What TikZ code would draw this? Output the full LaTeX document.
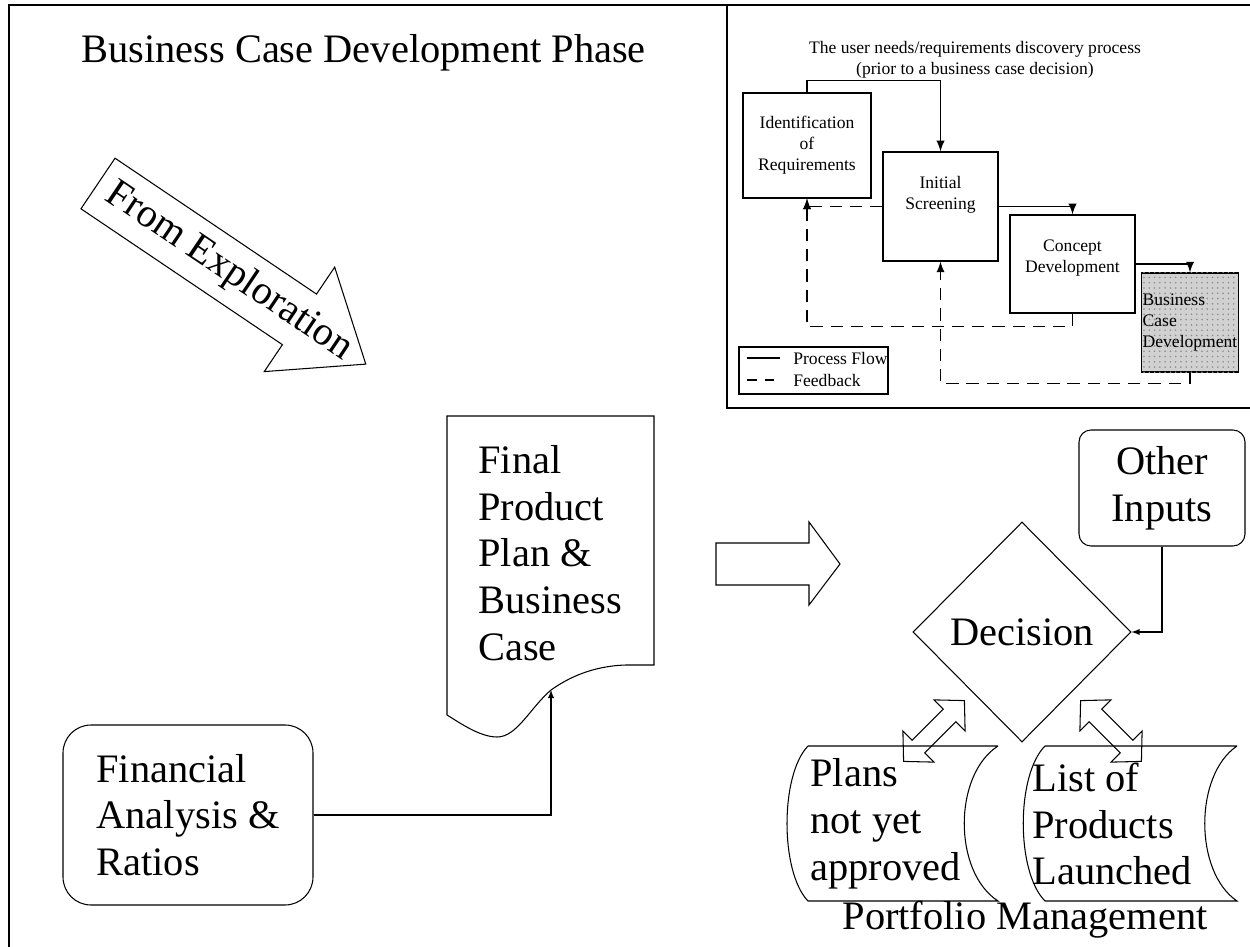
\documentclass[tikz,border=0pt]{standalone}
\usepackage{fontspec}
\setmainfont{Liberation Serif}
\usepackage{tikz}
\usetikzlibrary{positioning}
\usetikzlibrary{shapes.geometric, arrows}
\usetikzlibrary{calc}
\usetikzlibrary{patterns}
\tikzstyle{bigtxt}=[font=\fontsize{23}{26.6}\selectfont]
\tikzstyle{smalltxt}=[font=\fontsize{10}{12}\selectfont]
\tikzstyle{arrow}=[-latex, semithick]
\tikzstyle{flow}=[-latex, line width=1.1pt]
\tikzstyle{feedback}=[flow, dash pattern=on 7pt off 4.5pt]
\tikzstyle{stepbox}=[draw, semithick, smalltxt, align=center, inner sep=1pt]
\tikzstyle{roundbox}=[draw, semithick, bigtxt, align=left]

\begin{document}
\begin{tikzpicture}[x=0.2mm, y=0.2mm]
		\useasboundingbox (0,0) rectangle (1250,-947);
		\draw[line width=1.2pt] (9,-947)--(9,-5)--(1250,-5);
		\draw[semithick] (727,-5)--(727,-408)--(1250,-408);

		\node[bigtxt, anchor=base west] (title) at (75,-63) {Business Case Development Phase};

		\begin{scope}[shift={(98,-183.5)}, rotate=-34]
			\draw[semithick] (0,30.5)--(243,30.5)--(243,63)--(323,0)--(243,-63)--(243,-30.5)--(0,-30.5)--cycle;
			\node[bigtxt, transform shape] (explore) at (158,0) {From Exploration};
		\end{scope}

		\draw[semithick] (447,-416)--(654,-416)--(654,-665)--(626,-665)
			.. controls (592,-666) and (568,-678) .. (551,-690) coordinate (wave)
			.. controls (530,-708) and (517,-737) .. (497,-737)
			.. controls (480,-737) and (460,-723) .. (447,-715)--cycle;
		\node[bigtxt, align=left, anchor=west, inner sep=0] (final) at (478,-553) {Final\\Product\\Plan \&\\Business\\Case};

		\node[roundbox, rounded corners=5.6mm, minimum width=50mm, minimum height=36mm] (fin) at (188,-815) {Financial\\Analysis \&\\Ratios};
		\draw[arrow] (fin.east)-|(wave);

		\draw[semithick] (716,-543)--(809,-543)--(809,-522)--(840,-564)--(809,-605)--(809,-585)--(716,-585)--cycle;

		\node[draw, semithick, diamond, bigtxt, minimum width=43.6mm, minimum height=44mm, inner sep=0] (dec) at (1022,-632) {Decision};
		\node[roundbox, rounded corners=2.4mm, align=center, minimum width=33.2mm, minimum height=23.2mm] (other) at (1162,-488) {Other\\Inputs};
		\draw[arrow] (other.south)|-(dec.east);

		\foreach \x/\a in {934/45, 1111/135} {
			\begin{scope}[shift={(\x,-731)}, rotate=\a]
				\draw[semithick] (-43,0)--(-22,22)--(-22,9)--(22,9)--(22,22)--(43,0)--(22,-22)--(22,-9)--(-22,-9)--(-22,-22)--cycle;
			\end{scope}}

		\draw[semithick] (998,-746)--(808,-746) .. controls (780,-775) and (780,-872) .. (808,-901)--(998,-901) .. controls (953,-872) and (953,-775) .. (998,-746);
		\draw[semithick] (1237,-746)--(1045,-746) .. controls (1016,-775) and (1016,-872) .. (1045,-901)--(1237,-901) .. controls (1194,-872) and (1194,-775) .. (1237,-746);
		\node[bigtxt, align=left, anchor=west, inner sep=0] (plans) at (810,-824) {Plans\\not yet\\approved};
		\node[bigtxt, align=left, anchor=west, inner sep=0] (launched) at (1032,-824) {List of\\Products\\Launched};
		\node[bigtxt] (portfolio) at (1025,-920) {Portfolio Management};

		\node[smalltxt, align=center] (question) at (975,-60) {The user needs/requirements discovery process\\(prior to a business case decision)};
		\node[stepbox, minimum width=25.6mm, minimum height=21mm] (ident) at (807,-145.5) {Identification\\of\\Requirements};
		\node[stepbox, minimum width=23mm, minimum height=21.8mm, label={[smalltxt, align=center, yshift=2.3mm]center:{Initial\\Screening}}] (screen) at (940.5,-206.5) {};
		\node[stepbox, minimum width=25mm, minimum height=19.6mm, label={[smalltxt, align=center, yshift=1.2mm]center:{Concept\\Development}}] (concept) at (1072.5,-264) {};
		\node[stepbox, minimum width=19.2mm, minimum height=19.8mm, align=left, inner sep=0.5pt, fill=black!18, postaction={pattern=dots, pattern color=black!45}] (bizcase) at (1190,-322.5) {Business\\Case\\Development};

		\draw[flow] (ident.north)--++(0,12)-|(screen.north);
		\draw[flow] (screen.east)-|(concept.north);
		\draw[flow] (concept.east)-|(bizcase.north);
		\draw[feedback] (screen.west)-|(ident.south);
		\draw[feedback] (concept.south)--++(0,-13)-|(ident.south);
		\draw[feedback] (bizcase.south)--++(0,-11)-|(screen.south);

		\node[draw, semithick, minimum width=29.8mm, minimum height=9.4mm] (legend) at (813.5,-370.5) {};
		\node[smalltxt, anchor=west, inner sep=0] (lgflow) at (793,-358) {Process Flow};
		\node[smalltxt, anchor=west, inner sep=0] (lgfeed) at (793,-380) {Feedback};
		\draw[line width=1.1pt] ($(lgflow.west)+(-46,0)$)--++(33,0);
		\draw[line width=1.1pt, dash pattern=on 5.5pt off 4.5pt] ($(lgfeed.west)+(-46,0)$)--++(33,0);
	\end{tikzpicture}
\end{document}
